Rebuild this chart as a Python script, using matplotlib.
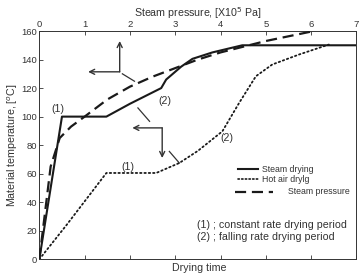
import matplotlib
matplotlib.use("Agg")
import matplotlib.pyplot as plt
from matplotlib.lines import Line2D

plt.rcParams['font.family'] = ['Liberation Sans', 'DejaVu Sans']

# data, x in steam pressure units (0..7), y in material temperature [C]
steam_x = [0, 0.5, 1.48, 2.0, 2.69, 2.8, 3.13, 3.38, 3.82, 4.48, 7.0]
steam_y = [0, 100, 100, 109, 120, 126, 135, 140.5, 145, 150, 150]

hotair_x = [0, 0.6, 1.48, 2.58, 3.09, 3.5, 4.04, 4.41, 4.78, 5.14, 5.73, 6.39]
hotair_y = [0, 24, 60.5, 60.5, 67.5, 76, 89.7, 109.6, 128.3, 136.5, 143.5, 150.5]

pressure_x = [0, 0.25, 0.45, 0.7, 1.0, 1.5, 2.0, 2.5, 3.0, 3.5, 4.0, 5.0, 6.06]
pressure_y = [0, 65, 85, 93, 100, 112, 121, 128, 134, 140, 145, 153, 160]

x_ticks = [0, 1, 2, 3, 4, 5, 6, 7]
y_ticks = [0, 20, 40, 60, 80, 100, 120, 140, 160]

fig = plt.figure(figsize=(3.61, 2.73), dpi=100)
ax = fig.add_axes([0.1089, 0.0502, 0.8786, 0.8362])

ink = '#1a1a1a'
grey = '#333333'
ax.plot(steam_x, steam_y, color=ink, lw=1.5, solid_joinstyle='round', zorder=3)
ax.plot(hotair_x, hotair_y, color=ink, lw=1.3, linestyle=(0, (0.8, 1.6)),
        dash_capstyle='round', zorder=3)
ax.plot(pressure_x, pressure_y, color=ink, lw=1.6, linestyle=(0, (5, 2.6)), zorder=3)

ax.set_xlim(0, 7)
ax.set_ylim(0, 160)
ax.set_xticks(x_ticks)
ax.set_yticks(y_ticks)
ax.tick_params(direction='in', length=3, width=0.6, labelsize=6.8,
               colors=grey, top=True, labeltop=True, labelbottom=False, pad=1.5)
for s in ax.spines.values():
    s.set_linewidth(0.7)
    s.set_color(grey)

ax.xaxis.set_label_position('top')
ax.set_xlabel('Steam pressure, [X10$^5$ Pa]', fontsize=7.7, color=grey, labelpad=2)
ax.set_ylabel('Material temperature, [$^o$C]', fontsize=7.7, color=grey, labelpad=1)
fig.text(0.553, 0.0, 'Drying time', fontsize=7.7, color=grey, ha='center', va='bottom')

# arrows showing which axis each curve belongs to
arr = dict(arrowstyle='->', lw=1.0, color=grey, mutation_scale=9, shrinkA=0, shrinkB=0)
ax.annotate('', xy=(1.774, 153), xytext=(1.774, 131.4), arrowprops=arr)
ax.annotate('', xy=(1.077, 131.4), xytext=(1.774, 131.4), arrowprops=arr)
ax.plot([1.833, 2.10], [130, 124.8], color=grey, lw=0.9)

ax.annotate('', xy=(2.712, 71), xytext=(2.712, 92.1), arrowprops=arr)
ax.annotate('', xy=(2.053, 92.1), xytext=(2.712, 92.1), arrowprops=arr)
ax.plot([2.176, 2.433], [106.1, 96.7], color=grey, lw=0.9)
ax.plot([2.87, 3.09], [75.6, 67.5], color=grey, lw=0.9)

lab = dict(fontsize=7.7, color=grey, ha='center', va='center')
ax.text(0.42, 105.6, '(1)', **lab)
ax.text(2.78, 111, '(2)', **lab)
ax.text(1.96, 64.5, '(1)', **lab)
ax.text(4.13, 85, '(2)', **lab)

# hand-made legend
tr = ax.transAxes
ax.add_line(Line2D([0.626, 0.689], [0.3955, 0.3955], transform=tr, color=ink, lw=1.5))
ax.add_line(Line2D([0.626, 0.689], [0.350, 0.350], transform=tr, color=ink, lw=1.2,
                   linestyle=(0, (0.8, 1.4)), dash_capstyle='round'))
ax.add_line(Line2D([0.617, 0.737], [0.296, 0.296], transform=tr, color=ink, lw=1.6,
                   linestyle=(0, (5, 2.6))))
leg = dict(fontsize=6.3, color=grey, ha='left', va='center', transform=tr)
ax.text(0.701, 0.3955, 'Steam drying', **leg)
ax.text(0.701, 0.350, 'Hot air drylg', **leg)
ax.text(0.785, 0.296, 'Steam pressure', **leg)

note = dict(fontsize=7.7, color=grey, ha='left', va='center', transform=tr)
ax.text(0.497, 0.150, '(1) ; constant rate drying period', **note)
ax.text(0.497, 0.096, '(2) ; falling rate drying period', **note)

fig.savefig('out.png', dpi=100)
